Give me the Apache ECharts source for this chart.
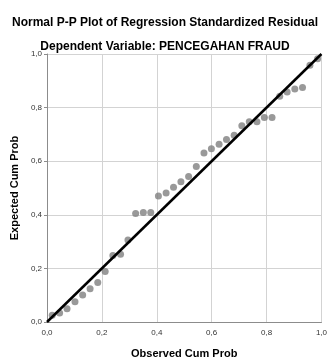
<!DOCTYPE html>
<html>
<head>
<meta charset="utf-8">
<script src="https://cdn.jsdelivr.net/npm/echarts@6/dist/echarts.min.js"></script>
<style>
  html, body { margin: 0; padding: 0; background: #fff; }
  #chart { width: 330px; height: 364px; }
</style>
</head>
<body>
<div id="chart"></div>
<script>
// observed vs expected cumulative probabilities
const observed = [0.019, 0.046, 0.073, 0.102, 0.130, 0.157, 0.185, 0.212, 0.240, 0.268, 0.295, 0.323,
  0.351, 0.378, 0.406, 0.434, 0.461, 0.488, 0.516, 0.544, 0.572, 0.599, 0.627, 0.654,
  0.682, 0.710, 0.737, 0.765, 0.792, 0.820, 0.848, 0.875, 0.903, 0.931, 0.958, 0.986];
const expected = [0.025, 0.034, 0.049, 0.076, 0.101, 0.124, 0.147, 0.188, 0.248, 0.253, 0.306, 0.405,
  0.409, 0.409, 0.470, 0.481, 0.503, 0.523, 0.543, 0.580, 0.631, 0.646, 0.663, 0.681,
  0.697, 0.732, 0.747, 0.747, 0.763, 0.763, 0.842, 0.858, 0.869, 0.875, 0.958, 0.982];
const diagonal = [[0, 0], [1, 1]];

const font = 'Liberation Sans, Arial, sans-serif';
const fmt = v => v.toFixed(1).replace('.', ',');

const chart = echarts.init(document.getElementById('chart'), null, { renderer: 'canvas' });

const axisCommon = {
  type: 'value',
  min: 0,
  max: 1,
  interval: 0.2,
  axisLine: { show: true, lineStyle: { color: '#8c8c8c', width: 1 } },
  splitLine: { show: true, lineStyle: { color: '#d3d3d3', width: 1 } },
  axisLabel: { formatter: fmt, fontSize: 8, color: '#333', fontFamily: font },
  nameTextStyle: { fontSize: 11, fontWeight: 'bold', color: '#000', fontFamily: font },
  nameLocation: 'middle'
};

chart.setOption({
  backgroundColor: '#fff',
  animation: false,
  title: [
    {
      text: 'Normal P-P Plot of Regression Standardized Residual',
      left: 'center',
      top: 12,
      textStyle: { fontSize: 12, fontWeight: 'bold', color: '#000', fontFamily: font }
    },
    {
      text: 'Dependent Variable: PENCEGAHAN FRAUD',
      left: 'center',
      top: 36,
      textStyle: { fontSize: 12, fontWeight: 'bold', color: '#000', fontFamily: font }
    }
  ],
  grid: { left: 47, right: 5, top: 54, bottom: 33, containLabel: false },
  xAxis: Object.assign({}, axisCommon, {
    name: 'Observed Cum Prob',
    nameGap: 26,
    axisTick: { show: false },
    axisLabel: Object.assign({}, axisCommon.axisLabel, { margin: 7 })
  }),
  yAxis: Object.assign({}, axisCommon, {
    name: 'Expected Cum Prob',
    nameGap: 27,
    axisTick: { show: true, length: 3, lineStyle: { color: '#8c8c8c' } },
    axisLabel: Object.assign({}, axisCommon.axisLabel, { margin: 5 })
  }),
  series: [
    {
      type: 'scatter',
      data: observed.map((x, i) => [x, expected[i]]),
      symbolSize: 7,
      itemStyle: { color: '#7f7f7f' },
      z: 2
    },
    {
      type: 'line',
      data: diagonal,
      symbol: 'none',
      lineStyle: { color: '#000', width: 2.5 },
      z: 3
    }
  ]
});
</script>
</body>
</html>
